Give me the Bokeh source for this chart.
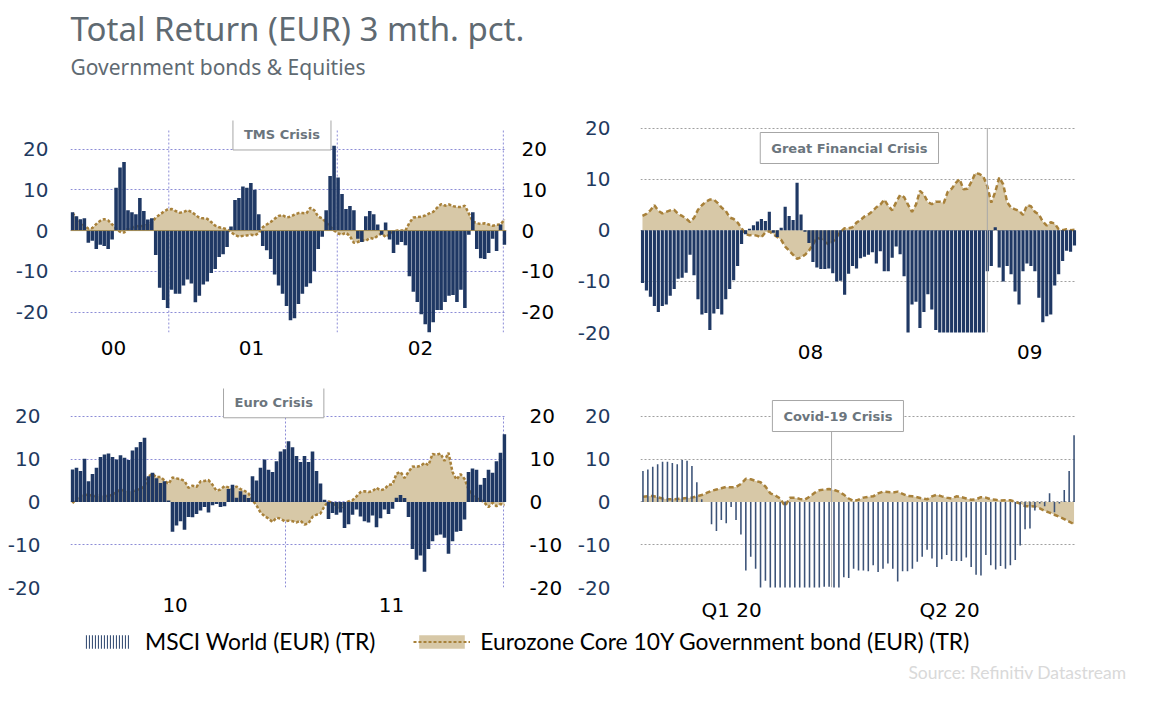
from bokeh.plotting import figure
from bokeh.layouts import column, row
from bokeh.models import Range1d, FixedTicker, LinearAxis, Label, Span, Legend, LegendItem
from bokeh.embed import file_html
from bokeh.resources import INLINE

# ---------------- data (3 month total return, pct) ----------------
tms_equity = [
    4.5, 3.5, 2.8, 3.0, -3.0, -2.5, -4.5, -3.5, -3.8, -4.5,
    -2.2, 10.5, 15.5, 16.8, 5.0, 4.5, 4.0, 8.0, 4.8, 2.7,
    3.0, -6.0, -14.0, -17.0, -19.0, -14.5, -15.5, -15.5, -13.5, -12.0,
    -13.0, -17.6, -16.0, -13.2, -12.5, -10.4, -9.4, -6.5, -5.8, -4.0,
    1.0, 7.5, 8.0, 10.8, 10.5, 11.7, 10.0, 4.0, -3.8, -4.8,
    -7.0, -10.8, -13.5, -15.5, -18.5, -22.0,
    -21.5, -18.0, -15.5, -13.8, -12.9, -10.0, -4.5, -1.5, 5.0, 13.4,
    20.8, 13.0, 9.0, 5.3, 6.0, 5.0, -2.0, -2.8, 3.5, 4.8,
    4.0, 1.5, -1.0, 2.0, -2.2, -5.5, -3.5, -2.8, -3.6, -11.2,
    -15.0, -17.5, -20.5, -23.0, -25.0, -22.5, -19.5, -19.5, -17.5, -16.0,
    -15.8, -17.5, -14.5, -19.0, -1.0, 4.5, -4.5, -6.8, -7.0, -5.5,
    -2.0, -5.0, 1.5, -3.5]
tms_bond = [
    4.3, 3.0, 2.2, 1.2, 0.5, 0.6, 1.6, 2.4, 2.8, 2.5,
    1.5, 0.5, -0.3, -0.5, 0.5, 0.8, 1.0, 1.2, 1.0, 1.5,
    2.0, 3.2, 3.9, 4.6, 5.2, 5.3, 4.8, 4.4, 4.5, 5.0,
    4.6, 3.9, 3.1, 3.0, 2.9, 2.1, 1.2, 0.8, 0.6, 0.3,
    -0.4, -1.1, -1.5, -1.3, -1.2, -1.0, -1.2, -0.6, 0.8, 1.5,
    2.1, 2.9, 3.6, 3.8, 3.2, 3.4,
    3.9, 4.3, 4.3, 4.2, 5.6, 5.0, 3.4, 3.0, 2.0, 1.0,
    0.0, -0.7, -1.0, -0.5, -1.4, -3.0, -2.8, -2.4, -2.5, -1.8,
    -2.0, -1.3, -0.7, -1.6, -1.0, -0.2, 0.0, 0.0, 0.0, 1.9,
    3.2, 3.3, 3.4, 3.7, 4.2, 4.6, 5.6, 6.5, 6.1, 6.4,
    6.0, 5.8, 5.8, 6.1, 4.2, 2.2, 1.8, 1.6, 1.8, 1.5,
    1.2, 1.4, 1.5, 2.8]
tms_xticks = [10.35, 45.16, 87.8]
tms_xlabels = ["00", "01", "02"]
tms_years = [24.3, 66.8, 108.7]

gfc_equity = [
    -10.3, -11.8, -13.0, -14.8, -16.0, -14.8, -14.5, -12.8, -11.5, -9.5,
    -9.3, -8.3, -4.8, -8.8, -13.5, -16.5, -16.2, -19.5, -16.3, -15.4,
    -16.5, -13.5, -11.5, -9.8, -7.0, -2.7, -0.8, 0.3, 1.0, 1.7,
    2.2, 1.8, 3.6, -0.5, -1.3, 0.5, 4.6, 2.8, 2.0, 9.3,
    3.1, -0.3, -2.5, -6.2, -7.3, -7.6, -7.6, -7.5, -8.4, -10.0,
    -9.9, -12.6, -8.5, -7.0, -7.5, -5.5,
    -5.2, -4.8, -4.3, -6.5, -4.1, -8.0, -8.0, -5.4, -3.2, -4.7,
    -9.0, -20.5, -14.5, -14.0, -19.1, -16.0, -12.5, -15.5, -19.5, -20.5,
    -20.5, -20.5, -20.5, -20.5, -20.5, -20.5, -20.5, -20.5, -20.5, -20.5,
    -20.5, -8.0, -7.0, 0.6, -7.3, -10.0, -7.0, -8.6, -12.0, -14.5,
    -8.0, -6.5, -7.0, -8.0, -13.2, -18.0, -16.8, -16.5, -10.8, -8.6,
    -6.0, -4.0, -4.2, -3.0]
gfc_bond = [
    2.8, 3.2, 3.9, 4.9, 3.8, 3.3, 3.6, 3.9, 4.0, 3.2,
    2.8, 2.3, 1.6, 2.4, 4.0, 4.9, 5.6, 6.0, 6.0, 5.3,
    4.4, 3.8, 2.5, 2.2, 1.5, 0.4, -0.7, -1.0, -0.9, -1.1,
    -1.4, -0.4, -0.2, -0.8, -1.3, -1.9, -3.2, -4.0, -4.8, -5.6,
    -5.3, -4.8, -4.0, -2.8, -1.5, -1.7, -2.3, -2.8, -2.3, -1.3,
    -0.3, 0.4, 0.4, 0.6, 1.5, 2.0,
    2.7, 3.1, 3.7, 4.5, 5.0, 6.0, 4.8, 3.9, 5.5, 6.9,
    6.5, 5.0, 3.6, 5.0, 7.7, 7.0, 5.5, 5.1, 5.6, 5.6,
    5.3, 7.5, 8.1, 9.2, 10.0, 8.0, 8.1, 9.5, 11.2, 11.0,
    10.5, 8.6, 5.4, 7.5, 10.3, 9.0, 5.5, 4.4, 4.1, 3.8,
    3.0, 4.9, 4.7, 3.6, 3.1, 1.7, 0.9, 1.6, 1.3, 0.2,
    0.0, 0.2, 0.0, 0.1]
gfc_xticks = [42.4, 97.7]
gfc_xlabels = ["08", "09"]
gfc_marker = [87.0]

euro_equity = [
    7.6, 8.0, 7.2, 10.1, 4.8, 6.5, 8.0, 10.5, 11.1, 11.3,
    10.5, 9.9, 10.9, 10.3, 9.8, 12.0, 12.8, 14.0, 15.0, 6.0,
    6.8, 5.5, 4.4, 4.8, 0.3, -7.0, -5.5, -4.5, -6.5, -3.5,
    -3.6, -2.8, -2.0, -1.2, -2.5, -0.8, -0.5, -1.2, -1.0, 3.0,
    4.0, 1.0, 2.5, 1.7, 0.9, 6.0, 5.0, 8.0, 9.9, 7.5,
    7.0, 9.5, 11.8, 12.3, 14.2,
    12.8, 10.7, 9.3, 10.7, 9.3, 11.8, 7.2, 4.3, 0.5, -4.0,
    -2.6, -3.0, -2.5, -6.1, -5.2, -3.0, -1.8, -3.4, -4.5, -4.8,
    -3.2, -5.9, -3.8, -1.8, -2.8, -1.6, 1.0, 1.6, 0.9, -3.5,
    -11.0, -13.5, -12.5, -16.3, -11.0, -9.2, -7.8, -7.6, -8.4, -12.1,
    -9.2, -7.0, -6.8, -4.1, 7.0, 7.8, 7.5, 4.0, 5.6, 7.5,
    6.8, 9.5, 11.5, 15.8]
euro_bond = [
    -0.3, 0.8, 1.5, 1.6, 1.7, 1.4, 1.3, 1.6, 1.4, 1.4,
    1.7, 2.3, 2.9, 2.6, 2.5, 2.5, 2.8, 3.0, 3.7, 6.0,
    6.5, 5.8, 5.8, 5.0, 4.2, 5.7, 5.5, 5.3, 4.9, 3.3,
    3.8, 3.5, 4.8, 4.9, 5.1, 4.0, 2.6, 2.9, 3.7, 3.4,
    3.0, 3.6, 3.0, 2.6, 2.0, 0.4, -0.8, -2.5, -3.3, -3.9,
    -4.7, -3.7, -3.9, -4.5, -4.4,
    -4.5, -4.8, -4.4, -5.3, -5.0, -3.5, -3.0, -2.7, -1.0, 0.1,
    -0.2, -1.5, -1.6, -0.3, 0.1, 0.4, 1.3, 2.3, 2.5, 2.3,
    2.5, 3.3, 2.7, 3.0, 4.0, 4.1, 6.6, 7.0, 5.6, 7.0,
    8.3, 8.2, 8.4, 9.1, 8.6, 11.2, 11.0, 11.3, 9.6, 11.5,
    7.0, 5.2, 6.5, 5.4, 3.0, 1.5, 0.8, 0.5, -0.2, -1.2,
    -0.2, -1.0, -0.5, -0.8]
euro_xticks = [25.65, 79.75]
euro_xlabels = ["10", "11"]
euro_years = [53.25, 107.75]

covid_equity = [
    7.2, 7.6, 8.2, 8.8, 9.4, 9.4, 9.1, 8.8, 9.8, 9.6,
    8.4, 4.6, 0.6, 0.0, -5.2, -6.8, -4.2, -5.0, -1.2, -4.2,
    -7.6, -16.0, -12.8, -15.6, -20.5, -18.4, -20.5, -20.5, -20.5, -20.5,
    -20.5, -20.5, -20.5, -20.5, -20.5, -20.5, -20.5, -19.8, -19.8, -20.5,
    -20.5, -17.6, -17.8, -15.6, -16.0, -16.0, -16.2, -14.8, -16.4, -15.6,
    -14.4, -15.6, -18.6, -16.2, -16.2, -15.6, -14.0, -12.8, -11.2, -13.2,
    -15.2, -13.4, -12.4, -13.8, -13.8, -13.8, -13.0, -15.2, -17.0, -17.2,
    -12.4, -14.8, -15.8, -15.0, -15.6, -14.8, -13.6, -10.2, -6.4, -6.2,
    -2.0, -0.4, -1.0, 2.0, -2.4, -0.4, 2.8, 7.2, 15.6]
covid_bond = [
    1.2, 1.3, 1.4, 1.1, 0.8, 0.6, 0.6, 0.7, 0.8, 0.9,
    1.0, 1.3, 1.6, 2.1, 2.6, 2.9, 3.2, 3.5, 3.4, 3.5,
    4.2, 5.4, 5.3, 4.9, 4.6, 3.6, 2.0, 1.5, 0.8, -1.0,
    1.0, 1.0, 0.7, 0.5, 1.2, 2.1, 2.7, 2.9, 3.0, 2.8,
    2.4, 1.7, 0.8, 0.2, 0.5, 1.0, 1.2, 1.3, 2.0, 2.4,
    2.3, 2.2, 2.4, 1.9, 1.4, 1.3, 1.1, 0.8, 0.6, 1.3,
    1.7, 1.3, 1.0, 0.8, 1.3, 1.1, 0.8, 0.5, 0.6, 1.1,
    1.0, 0.6, 0.5, 0.3, 0.4, 0.4, 0.0, -0.4, -1.0, -1.0,
    -1.1, -1.5, -2.1, -2.5, -3.0, -3.5, -4.0, -4.6, -5.2]
covid_xticks = [18.1, 62.6]
covid_xlabels = ["Q1 20", "Q2 20"]
covid_marker = [38.5]

y_ticks = [-20, -10, 0, 10, 20]
y_labels = ["-20", "-10", "0", "10", "20"]

# ---------------- styles ----------------
NAVY = "#1f3864"
SLATE = "#3c5378"
TAN = "#d7c8a7"
GOLD = "#a8813a"
GRID_BLUE = "#8c8cd6"
GRID_GRAY = "#a0a0a0"
TICK_NAVY = "#1f3a5f"
TITLE_GRAY = "#5f6a72"


def style_axis(ax, color, standoff):
    ax.axis_line_color = None
    ax.major_tick_line_color = None
    ax.minor_tick_line_color = None
    ax.major_tick_out = 0
    ax.major_tick_in = 0
    ax.minor_tick_out = 0
    ax.major_label_text_font = "DejaVu Sans"
    ax.major_label_text_font_size = "20px"
    ax.major_label_text_color = color
    ax.major_label_standoff = standoff


def panel(equity, bond, width, height, borders, yr, xticks, xlabels, grid_color,
          left_standoff, bottom_standoff, right_standoff=None, year_lines=None,
          year_span=(-20, 20), bar_width=0.9, bar_color=NAVY, dash="3 2",
          marker=None, crisis=None, zero_line=False):
    n = len(equity)
    x = list(range(n))
    bl, br, bt, bb = borders
    p = figure(width=width, height=height, x_range=Range1d(-0.5, n - 0.5),
               y_range=Range1d(*yr), output_backend="svg", toolbar_location=None,
               min_border_left=bl, min_border_right=br, min_border_top=bt,
               min_border_bottom=bb)
    p.outline_line_color = None
    p.xgrid.visible = False
    p.ygrid.ticker = FixedTicker(ticks=y_ticks)
    p.ygrid.grid_line_color = grid_color
    p.ygrid.grid_line_dash = "2 2"
    p.ygrid.grid_line_width = 1
    if year_lines:
        k = len(year_lines)
        p.segment(x0=year_lines, x1=year_lines, y0=[year_span[0]] * k,
                  y1=[year_span[1]] * k, line_color=grid_color, line_dash="2 2",
                  line_width=1)

    p.varea(x=x, y1=0, y2=bond, fill_color=TAN)
    p.line(x, bond, line_color=GOLD, line_width=2.5, line_dash=dash)
    p.vbar(x=x, top=equity, bottom=0, width=bar_width, fill_color=bar_color,
           line_color=None)

    if marker is not None:
        k = len(marker)
        p.segment(x0=marker, x1=marker, y0=[min(y_ticks)] * k, y1=[max(y_ticks)] * k,
                  line_color="#a8a8a8", line_width=1)

    p.yaxis.ticker = FixedTicker(ticks=y_ticks)
    p.yaxis.major_label_overrides = dict(zip(y_ticks, y_labels))
    style_axis(p.yaxis[0], TICK_NAVY, left_standoff)
    p.xaxis.ticker = FixedTicker(ticks=xticks)
    p.xaxis.major_label_overrides = dict(zip(xticks, xlabels))
    style_axis(p.xaxis[0], "#000000", bottom_standoff)
    if right_standoff is not None:
        ra = LinearAxis(ticker=FixedTicker(ticks=y_ticks))
        ra.major_label_overrides = dict(zip(y_ticks, y_labels))
        style_axis(ra, "#000000", right_standoff)
        p.add_layout(ra, "right")

    if zero_line:
        p.add_layout(Span(location=0, dimension="width", line_color="#a08a55",
                          line_width=1))
    if crisis:
        name, cx, cy = crisis
        p.add_layout(Label(x=cx, y=cy, text=name, text_align="center",
                           text_baseline="middle", text_font="DejaVu Sans",
                           text_font_style="bold", text_font_size="13px",
                           text_color="#6b757d", background_fill_color="white",
                           border_line_color="#a6a6a6", border_line_width=1,
                           padding=(11, 8)))
    return p


p1 = panel(tms_equity, tms_bond, 565, 280, (70, 59, 20, 48), (-25, 27),
           tms_xticks, tms_xlabels, GRID_BLUE, 22, 8, right_standoff=15,
           year_lines=tms_years, year_span=(-25, 25),
           crisis=("TMS Crisis", 52.85, 23.57), zero_line=True)
p2 = panel(gfc_equity, gfc_bond, 519, 280, (75, 8, 20, 48), (-20, 21.47),
           gfc_xticks, gfc_xlabels, GRID_GRAY, 30, 12, bar_width=0.8, dash="5 3",
           marker=gfc_marker, crisis=("Great Financial Crisis", 52.2, 16.09))
p3 = panel(euro_equity, euro_bond, 565, 245, (70, 59, 8, 38), (-20, 26.5),
           euro_xticks, euro_xlabels, GRID_BLUE, 30, 10, right_standoff=23,
           year_lines=euro_years, crisis=("Euro Crisis", 50.3, 23.28))
p4 = panel(covid_equity, covid_bond, 519, 245, (75, 8, 8, 38), (-20, 26.5),
           covid_xticks, covid_xlabels, GRID_GRAY, 30, 10, bar_width=0.32,
           bar_color=SLATE, dash="5 3", marker=covid_marker,
           crisis=("Covid-19 Crisis", 39.8, 20.07))

# ---------------- header ----------------
head = figure(width=1160, height=100, x_range=Range1d(0, 1160), y_range=Range1d(0, 100),
              output_backend="svg", toolbar_location=None, min_border=0,
              x_axis_location=None, y_axis_location=None)
head.outline_line_color = None
head.grid.visible = False
head.add_layout(Label(x=70, y=72, text="Total Return (EUR) 3 mth. pct.",
                      text_baseline="middle", text_font="Noto Sans",
                      text_font_size="33px", text_color=TITLE_GRAY))
head.add_layout(Label(x=70, y=34, text="Government bonds & Equities",
                      text_baseline="middle", text_font="Noto Sans",
                      text_font_size="21px", text_color=TITLE_GRAY))

# ---------------- legend / source ----------------
foot = figure(width=1160, height=75, x_range=Range1d(0, 1160), y_range=Range1d(0, 75),
              output_backend="svg", toolbar_location=None, min_border=0,
              x_axis_location=None, y_axis_location=None)
foot.outline_line_color = None
foot.grid.visible = False
rb = foot.vbar(x=[-20], top=[1], width=1, fill_color="white", line_color=None,
               hatch_pattern="vertical_line", hatch_color=SLATE, hatch_scale=3,
               hatch_weight=1.2)
rv = foot.varea(x=[-20, -19], y1=[0, 0], y2=[1, 1], fill_color=TAN)
rl = foot.line(x=[-20, -19], y=[1, 1], line_color=GOLD, line_width=2, line_dash="3 2")
leg = Legend(items=[LegendItem(label="MSCI World (EUR) (TR)", renderers=[rb]),
                    LegendItem(label="Eurozone Core 10Y Government bond (EUR) (TR)",
                               renderers=[rv, rl])],
             location=(78, 45), orientation="horizontal", glyph_width=57,
             glyph_height=17, label_text_font="Lato", label_text_font_size="22.8px",
             label_text_color="#000000", label_standoff=10, spacing=38,
             padding=0, margin=0, border_line_color=None, background_fill_alpha=0)
foot.add_layout(leg)
foot.add_layout(Label(x=1126, y=28, text="Source: Refinitiv Datastream",
                      text_align="right", text_baseline="middle", text_font="Lato",
                      text_font_size="17.5px", text_color="#d9d9d9"))

layout = column(head, row(p1, p2), row(p3, p4), foot)
open("out.html", "w").write(file_html(layout, INLINE))
